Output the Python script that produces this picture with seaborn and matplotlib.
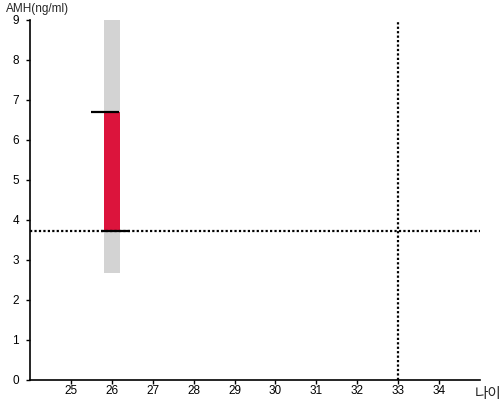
import matplotlib
matplotlib.use("Agg")
import matplotlib.pyplot as plt
import seaborn as sns

# data
age_ticks = [25, 26, 27, 28, 29, 30, 31, 32, 33, 34]
amh_ticks = [0, 1, 2, 3, 4, 5, 6, 7, 8, 9]
user_age = 26
range_low, range_high = 2.67, 9.0
amh_low, amh_high = 3.73, 6.71
ref_amh = 3.73
ref_age = 33

sns.set_style("ticks")
plt.rcParams["font.family"] = ["Liberation Sans", "Noto Sans CJK KR", "DejaVu Sans"]

fig = plt.figure(figsize=(5, 4), dpi=100)
ax = fig.add_axes([0.06, 0.05, 0.90, 0.90])

ax.bar([user_age], [range_high - range_low], bottom=[range_low], width=0.39,
       color="#D3D3D3", linewidth=0, zorder=1)
ax.bar([user_age], [amh_high - amh_low], bottom=[amh_low], width=0.39,
       color="#DC143C", linewidth=0, zorder=2)
ax.hlines(amh_high, user_age - 0.51, user_age + 0.17, color="black", lw=1.6, zorder=3)
ax.hlines(amh_low, user_age - 0.27, user_age + 0.44, color="black", lw=1.6, zorder=3)

ax.axhline(ref_amh, color="black", lw=1.6, linestyle=(0, (1, 1)), zorder=4)
ax.vlines(ref_age, 0, 8.95, color="black", lw=1.6, linestyle=(0, (1, 1)), zorder=4)

ax.set_xlim(24, 35)
ax.set_ylim(0, 9)
ax.set_xticks(age_ticks)
ax.set_yticks(amh_ticks)
ax.tick_params(labelsize=8.5, length=3, width=1, colors="black")
ax.tick_params(axis="x", pad=0.5)
ax.tick_params(axis="y", pad=5)
sns.despine(ax=ax)
for s in ["left", "bottom"]:
    ax.spines[s].set_linewidth(1.2)
    ax.spines[s].set_color("black")

fig.text(0.012, 0.962, "AMH(ng/ml)", fontsize=8.5, ha="left", va="bottom")
fig.text(0.949, 0.015, "나이", fontsize=10.5, ha="left", va="center",
         family=["Noto Sans CJK KR", "DejaVu Sans"])

fig.savefig("out.png", dpi=100)
